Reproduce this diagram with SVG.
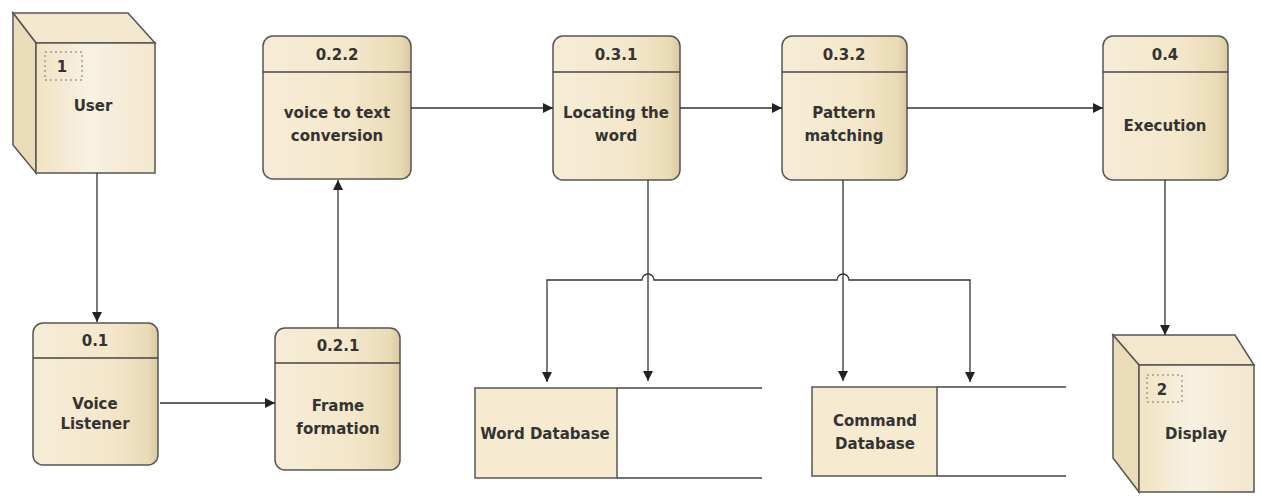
<svg xmlns="http://www.w3.org/2000/svg" width="1261" height="498" viewBox="0 0 1261 498">
<defs>
<linearGradient id="boxg" x1="0" y1="0" x2="1" y2="0">
<stop offset="0" stop-color="#f6ecd6"/>
<stop offset="0.6" stop-color="#f4e7cb"/>
<stop offset="0.92" stop-color="#eadbb6"/>
<stop offset="1" stop-color="#d9c7a0"/>
</linearGradient>
<linearGradient id="frontg" x1="0" y1="0" x2="1" y2="0">
<stop offset="0" stop-color="#f1e3c2"/>
<stop offset="0.45" stop-color="#f8f1e2"/>
<stop offset="1" stop-color="#f3e7cc"/>
</linearGradient>
<marker id="arr" viewBox="0 0 10 10" refX="10" refY="5" markerWidth="10" markerHeight="10" markerUnits="userSpaceOnUse" orient="auto-start-reverse">
<path d="M0,0 L10,5 L0,10 z" fill="#222"/>
</marker>
<style>
.box{fill:url(#boxg);stroke:#555;stroke-width:1.5}
.div{stroke:#444;stroke-width:1.5}
.t{font-family:"DejaVu Sans","Liberation Sans",Arial,sans-serif;font-size:15px;font-weight:bold;fill:#333;text-anchor:middle}
.c{fill:none;stroke:#333;stroke-width:1.3}
.store{fill:none;stroke:#444;stroke-width:1.5}
.sfill{fill:#f6ead0;stroke:#555;stroke-width:1.5}
.top{fill:#f3e7cd;stroke:#555;stroke-width:1.5}
.side{fill:#ebdcb9;stroke:#555;stroke-width:1.5}
.front{fill:url(#frontg);stroke:#555;stroke-width:1.5}
.dot{fill:none;stroke:#777;stroke-width:1;stroke-dasharray:2,3}
</style>
</defs>

<g id="user">
<polygon class="top" points="13,13 128,13 155,43 36,43"/>
<polygon class="side" points="13,13 36,43 36,173 13,145"/>
<rect class="front" x="36" y="43" width="119" height="130"/>
<rect class="dot" x="45" y="52" width="37" height="28"/>
<text class="t" x="62" y="72">1</text>
<text class="t" x="93" y="111">User</text>
</g>

<g id="display">
<polygon class="top" points="1113,335 1235,335 1254,365 1139,365"/>
<polygon class="side" points="1113,335 1139,365 1139,492 1113,458"/>
<rect class="front" x="1139" y="365" width="115" height="127"/>
<rect class="dot" x="1147" y="375" width="35" height="27"/>
<text class="t" x="1162" y="395">2</text>
<text class="t" x="1196" y="439">Display</text>
</g>

<g id="p01">
<rect class="box" x="33" y="323" width="125" height="142" rx="10"/>
<line class="div" x1="33" y1="358" x2="158" y2="358"/>
<text class="t" x="95" y="346">0.1</text>
<text class="t" x="95" y="409">Voice</text>
<text class="t" x="95" y="429">Listener</text>
</g>

<g id="p021">
<rect class="box" x="275" y="328" width="125" height="142" rx="10"/>
<line class="div" x1="275" y1="363" x2="400" y2="363"/>
<text class="t" x="338" y="351">0.2.1</text>
<text class="t" x="338" y="411">Frame</text>
<text class="t" x="338" y="434">formation</text>
</g>

<g id="p022">
<rect class="box" x="263" y="36" width="148" height="143" rx="10"/>
<line class="div" x1="263" y1="72" x2="411" y2="72"/>
<text class="t" x="337" y="60">0.2.2</text>
<text class="t" x="337" y="118">voice to text</text>
<text class="t" x="337" y="141">conversion</text>
</g>

<g id="p031">
<rect class="box" x="553" y="36" width="127" height="144" rx="10"/>
<line class="div" x1="553" y1="72" x2="680" y2="72"/>
<text class="t" x="616" y="60">0.3.1</text>
<text class="t" x="616" y="118">Locating the</text>
<text class="t" x="616" y="141">word</text>
</g>

<g id="p032">
<rect class="box" x="782" y="36" width="125" height="144" rx="10"/>
<line class="div" x1="782" y1="72" x2="907" y2="72"/>
<text class="t" x="844" y="60">0.3.2</text>
<text class="t" x="844" y="118">Pattern</text>
<text class="t" x="844" y="141">matching</text>
</g>

<g id="p04">
<rect class="box" x="1103" y="36" width="125" height="144" rx="10"/>
<line class="div" x1="1103" y1="72" x2="1228" y2="72"/>
<text class="t" x="1165" y="60">0.4</text>
<text class="t" x="1165" y="131">Execution</text>
</g>

<g id="worddb">
<rect class="sfill" x="475" y="388" width="142" height="90"/>
<line class="store" x1="617" y1="388" x2="762" y2="388"/>
<line class="store" x1="617" y1="478" x2="762" y2="478"/>
<text class="t" x="545" y="439">Word Database</text>
</g>

<g id="cmddb">
<rect class="sfill" x="812" y="387" width="125" height="89"/>
<line class="store" x1="937" y1="387" x2="1066" y2="387"/>
<line class="store" x1="937" y1="476" x2="1066" y2="476"/>
<text class="t" x="875" y="426">Command</text>
<text class="t" x="875" y="449">Database</text>
</g>

<g id="connectors">
<line class="c" x1="97" y1="173" x2="97" y2="322" marker-end="url(#arr)"/>
<line class="c" x1="160" y1="403" x2="275" y2="403" marker-end="url(#arr)"/>
<line class="c" x1="338" y1="328" x2="338" y2="180" marker-end="url(#arr)"/>
<line class="c" x1="411" y1="108" x2="553" y2="108" marker-end="url(#arr)"/>
<line class="c" x1="680" y1="108" x2="782" y2="108" marker-end="url(#arr)"/>
<line class="c" x1="907" y1="108" x2="1103" y2="108" marker-end="url(#arr)"/>
<line class="c" x1="1165" y1="180" x2="1165" y2="335" marker-end="url(#arr)"/>
<line class="c" x1="648" y1="180" x2="648" y2="381" marker-end="url(#arr)"/>
<line class="c" x1="843" y1="180" x2="843" y2="381" marker-end="url(#arr)"/>
<path class="c" d="M547,382 V280 H642 A6,6 0 0 1 654,280 H837 A6,6 0 0 1 849,280 H970 V382" marker-start="url(#arr)" marker-end="url(#arr)"/>
</g>
</svg>
